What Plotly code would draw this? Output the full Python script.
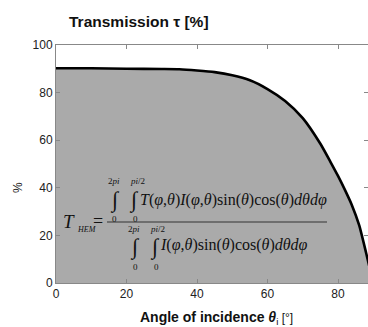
import plotly.graph_objects as go

# ---- data ----
angles = [0, 10, 20, 30, 35, 40, 45, 50, 55, 60, 65, 70, 75, 78, 80, 82, 84, 86, 88, 90]
transmission = [90.2, 90.2, 90.0, 89.9, 89.8, 89.3, 88.6, 87.3, 85.2, 81.5, 76.5, 69.3,
                58.5, 50.5, 45.0, 39.0, 32.5, 24.3, 12.5, 0.0]
x_ticks = [0, 20, 40, 60, 80]
y_ticks = [0, 20, 40, 60, 80, 100]

W, H = 368, 327
ML, MR, MT, MB = 56, 0, 45, 44
PW, PH = W - ML - MR, H - MT - MB


def px(xp):
    return (xp - ML) / PW


def py(yp):
    return (H - MB - yp) / PH


fig = go.Figure()
fig.add_trace(go.Scatter(
    x=angles, y=transmission, mode="lines",
    line=dict(color="black", width=2.6, shape="spline", smoothing=0.6),
    fill="tozeroy", fillcolor="#aaaaaa", hoverinfo="skip", showlegend=False,
))

serif = "Liberation Serif"
ink = "#111111"
ann = []


def add(text, x, y, size, xa="center", ya="middle", family=serif, color=ink):
    ann.append(dict(text=text, x=px(x), y=py(y), xref="paper", yref="paper",
                    xanchor=xa, yanchor=ya, showarrow=False,
                    font=dict(family=family, size=size, color=color)))


# equation
add("<i>T</i>", 69, 221, 19)
add("<i>HEM</i>", 75, 229, 8, xa="left")
add("=", 98, 221, 18)
num = "<i>T</i>(<i>φ</i>,<i>θ</i>)<i>I</i>(<i>φ</i>,<i>θ</i>)sin(<i>θ</i>)cos(<i>θ</i>)<i>dθdφ</i>"
den = "<i>I</i>(<i>φ</i>,<i>θ</i>)sin(<i>θ</i>)cos(<i>θ</i>)<i>dθdφ</i>"
add(num, 138, 200, 16, xa="left")
add(den, 158, 245, 16, xa="left")
for cx, cy in [(115, 200), (134, 200), (135, 247), (155, 247)]:
    add("∫", cx, cy, 22)
for t, cx, cy in [("2<i>pi</i>", 114, 181), ("<i>pi</i>/2", 137, 181), ("0", 114, 219), ("0", 135, 219),
                  ("2<i>pi</i>", 134, 229), ("<i>pi</i>/2", 157, 229), ("0", 135, 267), ("0", 156, 267)]:
    add(t, cx, cy, 9)

# titles
add("<b>Transmission τ [%]</b>", 67, 22, 15.5, xa="left", family="Liberation Sans", color="#111111")
add("<b>Angle of incidence <i>θ</i></b><sub>i</sub><span style='font-size:12px'> [°]</span>",
    216, 318, 14, family="Liberation Sans", color="#111111")
add("%", 18, 188, 12, family="Liberation Sans", color="#222222")
ann[-1]["textangle"] = -90

fig.update_layout(
    width=W, height=H,
    margin=dict(l=ML, r=MR, t=MT, b=MB, pad=0),
    paper_bgcolor="white", plot_bgcolor="white",
    annotations=ann,
    shapes=[dict(type="line", xref="paper", yref="paper", x0=px(107), x1=px(327),
                 y0=py(222), y1=py(222), line=dict(color="#333333", width=1))],
    font=dict(family="Liberation Sans", size=12, color="#222222"),
)
fig.update_xaxes(range=[0, PW / 3.525], tickvals=x_ticks, ticks="inside", ticklen=4,
                 tickcolor="#888888", showline=True, linecolor="#888888", linewidth=1,
                 mirror="ticks", showgrid=False, zeroline=False,
                 tickfont=dict(family="Liberation Sans", size=12, color="#222222"))
fig.update_yaxes(range=[0, 100], tickvals=y_ticks, ticks="inside", ticklen=4,
                 tickcolor="#888888", showline=True, linecolor="#888888", linewidth=1,
                 mirror="ticks", showgrid=False, zeroline=False,
                 tickfont=dict(family="Liberation Sans", size=12, color="#222222"))

fig.write_html("out.html", config={"displayModeBar": False},
               post_script="document.body.style.margin='0px';document.body.style.overflow='hidden';")
